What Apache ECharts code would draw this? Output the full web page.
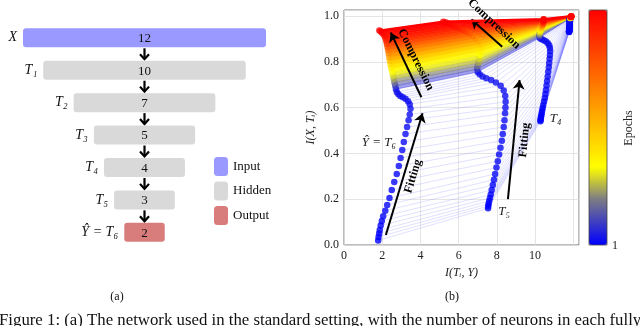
<!DOCTYPE html>
<html>
<head>
<meta charset="UTF-8">
<title>Network and information plane</title>
<script src="https://cdn.jsdelivr.net/npm/echarts@6/dist/echarts.min.js"></script>
<style>
  html, body { margin: 0; padding: 0; background: #fff; }
  #chart { width: 640px; height: 326px; }
</style>
</head>
<body>
<div id="chart"></div>
<script>
// (a) layers of the network
const layerNames = ['X', 'T₁', 'T₂', 'T₃', 'T₄', 'T₅', 'Ŷ = T₆'];
const layerSizes = [12, 10, 7, 5, 4, 3, 2];
const layerKinds = ['Input', 'Hidden', 'Hidden', 'Hidden', 'Hidden', 'Hidden', 'Output'];
const kindColors = { Input: '#9999ff', Hidden: '#d9d9d9', Output: '#d87c7c' };

// (b) information plane, one snapshot per entry
const epochs = [1, 10, 20, 30, 40, 50, 60, 70, 80, 90, 100, 110, 120, 130, 140, 150, 160, 170, 180, 190,
  200, 210, 220, 230, 240, 250, 260, 270, 280, 290,
  1000, 1800, 2400, 2900, 3300, 3700, 4200, 4900, 5600, 6300, 7000, 7700, 8300, 8800, 9200, 9500, 9700, 9850, 9950, 10000];

const t6x = [1.79, 1.81, 1.84, 1.87, 1.92, 1.98, 2.05, 2.16, 2.26, 2.38, 2.50, 2.63, 2.76, 2.87, 2.96, 3.05, 3.13, 3.22, 3.30, 3.38,
  3.44, 3.48, 3.44, 3.35, 3.22, 3.08, 2.95, 2.85, 2.77, 2.72,
  2.68, 2.64, 2.60, 2.56, 2.52, 2.48, 2.44, 2.40, 2.37, 2.34, 2.31, 2.28, 2.25, 2.22, 2.18, 2.13, 2.07, 2.00, 1.93, 1.85];
const t6y = [0.020, 0.035, 0.050, 0.065, 0.085, 0.105, 0.125, 0.150, 0.175, 0.205, 0.240, 0.275, 0.310, 0.345, 0.380, 0.415, 0.450, 0.485, 0.515, 0.545,
  0.570, 0.595, 0.615, 0.628, 0.638, 0.645, 0.651, 0.658, 0.667, 0.680,
  0.695, 0.710, 0.725, 0.740, 0.756, 0.772, 0.788, 0.804, 0.820, 0.836, 0.851, 0.865, 0.878, 0.890, 0.901, 0.911, 0.920, 0.927, 0.932, 0.936];

const t5x = [7.54, 7.55, 7.57, 7.60, 7.64, 7.68, 7.73, 7.79, 7.85, 7.91, 7.98, 8.05, 8.12, 8.19, 8.26, 8.31, 8.36, 8.40, 8.43, 8.45,
  8.46, 8.44, 8.36, 8.20, 7.95, 7.70, 7.45, 7.25, 7.10, 7.00,
  6.97, 6.99, 7.03, 7.07, 7.11, 7.14, 7.14, 7.10, 7.02, 6.90, 6.75, 6.58, 6.40, 6.21, 6.02, 5.84, 5.66, 5.49, 5.34, 5.20];
const t5y = [0.160, 0.170, 0.180, 0.192, 0.205, 0.220, 0.240, 0.262, 0.285, 0.310, 0.338, 0.366, 0.395, 0.425, 0.455, 0.485, 0.515, 0.545, 0.575, 0.600,
  0.625, 0.650, 0.675, 0.695, 0.710, 0.720, 0.728, 0.736, 0.745, 0.755,
  0.768, 0.782, 0.797, 0.813, 0.830, 0.847, 0.863, 0.877, 0.890, 0.902, 0.913, 0.923, 0.932, 0.940, 0.947, 0.954, 0.960, 0.966, 0.971, 0.975];

const t4x = [10.28, 10.29, 10.30, 10.31, 10.33, 10.35, 10.37, 10.40, 10.43, 10.47, 10.51, 10.54, 10.57, 10.60, 10.63, 10.66, 10.69, 10.72, 10.74, 10.76,
  10.78, 10.79, 10.78, 10.74, 10.67, 10.58, 10.48, 10.38, 10.30, 10.25,
  10.23, 10.23, 10.24, 10.25, 10.27, 10.29, 10.31, 10.33, 10.35, 10.37, 10.38, 10.40, 10.41, 10.42, 10.43, 10.44, 10.44, 10.45, 10.45, 10.45];
const t4y = [0.540, 0.546, 0.552, 0.559, 0.567, 0.576, 0.586, 0.598, 0.611, 0.626, 0.642, 0.659, 0.677, 0.696, 0.716, 0.736, 0.756, 0.776, 0.795, 0.813,
  0.830, 0.846, 0.860, 0.872, 0.881, 0.888, 0.893, 0.897, 0.901, 0.905,
  0.911, 0.917, 0.923, 0.929, 0.935, 0.940, 0.945, 0.950, 0.954, 0.958, 0.962, 0.966, 0.969, 0.972, 0.975, 0.978, 0.980, 0.982, 0.984, 0.986];

const t3x = [11.78, 11.78, 11.78, 11.79, 11.79, 11.79, 11.79, 11.80, 11.80, 11.80, 11.80, 11.80, 11.81, 11.81, 11.81, 11.81, 11.81, 11.81, 11.82, 11.82,
  11.82, 11.82, 11.82, 11.82, 11.82, 11.83, 11.83, 11.83, 11.83, 11.83,
  11.83, 11.84, 11.84, 11.84, 11.85, 11.85, 11.85, 11.86, 11.86, 11.86, 11.87, 11.87, 11.87, 11.88, 11.88, 11.88, 11.89, 11.89, 11.90, 11.90];
const t3y = [0.930, 0.931, 0.932, 0.934, 0.936, 0.938, 0.941, 0.944, 0.947, 0.950, 0.953, 0.956, 0.959, 0.962, 0.965, 0.968, 0.971, 0.973, 0.975, 0.977,
  0.979, 0.981, 0.983, 0.984, 0.985, 0.986, 0.987, 0.988, 0.989, 0.990,
  0.990, 0.991, 0.991, 0.992, 0.992, 0.993, 0.993, 0.994, 0.994, 0.995, 0.995, 0.996, 0.996, 0.997, 0.997, 0.997, 0.998, 0.998, 0.998, 0.999];

const xTicks = [0, 2, 4, 6, 8, 10];
const yTicks = [0, 0.2, 0.4, 0.6, 0.8, 1.0];
const epochMin = 1, epochMax = 10000;

// annotation arrows and texts (data coords)
const arrowFrom = [[2.19, 0.044], [8.58, 0.200], [4.05, 0.645], [8.28, 0.866]];
const arrowTo = [[4.11, 0.575], [9.19, 0.720], [2.45, 0.927], [6.67, 0.985]];
const noteText = ['Fitting', 'Fitting', 'Compression', 'Compression'];
const noteAt = [[3.62, 0.300], [9.45, 0.458], [3.76, 0.809], [7.85, 0.965]];
const noteRot = [73.2, 84.4, -63.5, -43.2];
const tagText = ['Ŷ = T₆', 'T₅', 'T₄'];
const tagAt = [[1.83, 0.445], [8.38, 0.148], [11.08, 0.552]];

const SERIF = '"Liberation Serif", "DejaVu Serif", serif';

// blue -> gray -> yellow -> red
const cmapStops = [[0, [0, 0, 255]], [0.2, [128, 128, 128]], [0.33, [255, 255, 0]], [1, [255, 0, 0]]];
function cmap(t) {
  t = Math.max(0, Math.min(1, t));
  for (let i = 1; i < cmapStops.length; i++) {
    const [p1, c1] = cmapStops[i];
    const [p0, c0] = cmapStops[i - 1];
    if (t <= p1) {
      const f = (t - p0) / (p1 - p0);
      return c0.map((v, j) => Math.round(v + (c1[j] - v) * f));
    }
  }
  return cmapStops[cmapStops.length - 1][1];
}
function epochT(e) { return (e - epochMin) / (epochMax - epochMin); }
function rgba(t, a) { const c = cmap(t); return 'rgba(' + c[0] + ',' + c[1] + ',' + c[2] + ',' + a + ')'; }

const cbColors = [];
for (let i = 0; i <= 30; i++) cbColors.push(rgba(i / 30, 1));

function epochLine(e) {
  return [[t6x[e], t6y[e]], [t5x[e], t5y[e]], [t4x[e], t4y[e]], [t3x[e], t3y[e]]];
}
const allIdx = epochs.map((_, i) => i);
const fitIdx = allIdx.filter(i => epochs[i] < 1000);
const bandIdx = allIdx.filter(i => i >= fitIdx.length - 1 && i < epochs.length - 1);
const last = epochs.length - 1;

// ---- panel (a) ----
function renderLayer(params, api) {
  const n = api.value(0), k = api.value(1);
  const a = api.coord([-n / 2, k]);
  const b = api.coord([n / 2, k]);
  const h = 19;
  const cx = (a[0] + b[0]) / 2;
  const kids = [
    { type: 'rect', shape: { x: a[0], y: a[1] - h / 2, width: b[0] - a[0], height: h, r: 3 },
      style: { fill: api.visual('color') } },
    { type: 'text', style: { text: String(n), x: cx, y: a[1] + 1, align: 'center', verticalAlign: 'middle',
      font: '13px ' + SERIF, fill: '#111' } },
    { type: 'text', style: { text: layerNames[k], x: a[0] - 6, y: a[1], align: 'right', verticalAlign: 'middle',
      font: 'italic 14px ' + SERIF, fill: '#111' } }
  ];
  if (k < layerSizes.length - 1) {
    const c = api.coord([0, k + 1]);
    const y1 = a[1] + h / 2 + 1, y2 = c[1] - h / 2 - 1;
    kids.push({ type: 'line', shape: { x1: cx, y1: y1, x2: cx, y2: y2 - 1 }, style: { stroke: '#000', lineWidth: 2.2 } });
    kids.push({ type: 'polyline', shape: { points: [[cx - 4.5, y2 - 5.5], [cx, y2 - 0.5], [cx + 4.5, y2 - 5.5]] },
      style: { stroke: '#000', lineWidth: 2.2, fill: null } });
  }
  return { type: 'group', children: kids };
}
function layerSeries(kind) {
  return {
    type: 'custom', name: kind, xAxisIndex: 0, yAxisIndex: 0,
    itemStyle: { color: kindColors[kind] },
    renderItem: renderLayer,
    data: layerSizes.map((n, k) => [n, k]).filter((d, k) => layerKinds[k] === kind)
  };
}

// ---- panel (b) ----
function renderHatch(params, api) {
  const e = api.value(2);
  const pts = epochLine(e).map(p => api.coord(p));
  return { type: 'polyline', shape: { points: pts }, style: { stroke: 'rgba(50,50,255,0.26)', lineWidth: 0.6, fill: null } };
}
function renderBand(params, api) {
  const e = api.value(2);
  const lo = epochLine(e).map(p => api.coord(p));
  const hi = epochLine(e + 1).map(p => api.coord(p)).reverse();
  const t = (epochT(epochs[e]) + epochT(epochs[e + 1])) / 2;
  const a = Math.min(1, 0.35 + 1.6 * t);
  const col = rgba(t, a);
  return { type: 'polygon', shape: { points: lo.concat(hi) }, style: { fill: col, stroke: col, lineWidth: 0.6 } };
}
function layerDots(xs, ys) {
  return {
    type: 'scatter', xAxisIndex: 1, yAxisIndex: 1, symbolSize: 6.5, z: 4,
    data: xs.map((x, i) => [x, ys[i], epochs[i]])
  };
}

const chart = echarts.init(document.getElementById('chart'), null, { renderer: 'canvas' });

const option = {
  animation: false,
  backgroundColor: '#fff',
  legend: {
    data: ['Input', 'Hidden', 'Output'],
    orient: 'vertical', left: 214, top: 157, padding: 0,
    itemWidth: 14, itemHeight: 19, itemGap: 5.5, icon: 'roundRect',
    textStyle: { fontFamily: SERIF, fontSize: 13, color: '#111' },
    selectedMode: false
  },
  grid: [
    { left: 23, top: 21.6, width: 243, height: 226.9 },
    { left: 344, top: 10, width: 235, height: 235, show: true, borderColor: '#555', borderWidth: 0.8, backgroundColor: 'transparent' }
  ],
  xAxis: [
    { gridIndex: 0, type: 'value', min: -6, max: 6, show: false },
    {
      gridIndex: 1, type: 'value', min: 0, max: 12.3, interval: 2,
      axisLine: { show: false }, axisTick: { show: false },
      splitLine: { lineStyle: { color: '#dedede', width: 0.8 } },
      axisLabel: { margin: 5, fontFamily: SERIF, fontSize: 12, color: '#222',
        formatter: v => xTicks.indexOf(v) >= 0 ? String(v) : '' },
      name: 'I(Tᵢ, Y)', nameLocation: 'middle', nameGap: 20,
      nameTextStyle: { fontFamily: SERIF, fontSize: 12, fontStyle: 'italic', color: '#222' }
    }
  ],
  yAxis: [
    { gridIndex: 0, type: 'value', min: -0.5, max: 6.5, inverse: true, show: false },
    {
      gridIndex: 1, type: 'value', min: 0, max: 1.026, interval: 0.2,
      axisLine: { show: false }, axisTick: { show: false },
      splitLine: { lineStyle: { color: '#dedede', width: 0.8 } },
      axisLabel: { margin: 5, fontFamily: SERIF, fontSize: 12, color: '#222',
        formatter: v => yTicks.some(t => Math.abs(t - v) < 1e-6) ? v.toFixed(1) : '' },
      name: 'I(X, Tᵢ)', nameLocation: 'middle', nameGap: 27, nameRotate: 90,
      nameTextStyle: { fontFamily: SERIF, fontSize: 12, fontStyle: 'italic', color: '#222' }
    }
  ],
  visualMap: {
    type: 'continuous', min: epochMin, max: epochMax, dimension: 2,
    seriesIndex: [7, 8, 9, 10],
    orient: 'vertical', left: 589, top: 10, itemWidth: 18, itemHeight: 235,
    padding: 0, calculable: false, hoverLink: false,
    inRange: { color: cbColors }
  },
  series: [
    layerSeries('Input'),
    layerSeries('Hidden'),
    layerSeries('Output'),
    {
      type: 'custom', xAxisIndex: 1, yAxisIndex: 1, z: 1, silent: true,
      renderItem: renderHatch,
      data: fitIdx.map(e => [t6x[e], t6y[e], e])
    },
    {
      type: 'custom', xAxisIndex: 1, yAxisIndex: 1, z: 2, silent: true,
      renderItem: renderBand,
      data: bandIdx.map(e => [t6x[e], t6y[e], e])
    },
    {
      type: 'line', xAxisIndex: 1, yAxisIndex: 1, z: 10, silent: true,
      symbol: 'none', lineStyle: { color: '#ff0000', width: 2.5 },
      data: epochLine(last),
      markLine: {
        silent: true, symbol: ['none', 'arrow'], symbolSize: 9, animation: false,
        label: { show: false },
        lineStyle: { color: '#000', width: 2, type: 'solid' },
        emphasis: { disabled: true },
        data: arrowFrom.map((p, i) => [{ coord: p }, { coord: arrowTo[i] }])
      }
    },
    { type: 'line', xAxisIndex: 1, yAxisIndex: 1, data: [], silent: true },
    layerDots(t6x, t6y),
    layerDots(t5x, t5y),
    layerDots(t4x, t4y),
    layerDots(t3x, t3y)
  ]
};
chart.setOption(option);

// texts placed through the axis scales
const graphics = [];
const toPx = p => chart.convertToPixel({ xAxisIndex: 1, yAxisIndex: 1 }, p);
noteText.forEach((txt, i) => {
  const p = toPx(noteAt[i]);
  graphics.push({ type: 'text', x: p[0], y: p[1], rotation: noteRot[i] * Math.PI / 180, z: 20,
    style: { text: txt, align: 'center', verticalAlign: 'middle', font: 'bold 12px ' + SERIF, fill: '#000' } });
});
tagText.forEach((txt, i) => {
  const p = toPx(tagAt[i]);
  graphics.push({ type: 'text', x: p[0], y: p[1], z: 20,
    style: { text: txt, align: 'center', verticalAlign: 'middle', font: 'italic 13px ' + SERIF, fill: '#222' } });
});
graphics.push(
  { type: 'rect', shape: { x: 589, y: 10, width: 18, height: 235 }, style: { fill: null, stroke: '#444', lineWidth: 0.8 }, z: 20 },
  { type: 'text', x: 612, y: 246, style: { text: '1', align: 'left', verticalAlign: 'middle', font: '12px ' + SERIF, fill: '#222' } },
  { type: 'text', x: 629, y: 128, rotation: Math.PI / 2,
    style: { text: 'Epochs', align: 'center', verticalAlign: 'middle', font: '12px ' + SERIF, fill: '#222' } },
  { type: 'text', x: 117, y: 297, style: { text: '(a)', align: 'center', verticalAlign: 'middle', font: '12px ' + SERIF, fill: '#111' } },
  { type: 'text', x: 452, y: 297, style: { text: '(b)', align: 'center', verticalAlign: 'middle', font: '12px ' + SERIF, fill: '#111' } },
  { type: 'text', x: -1, y: 312, style: { text: 'Figure 1: (a) The network used in the standard setting, with the number of neurons in each fully',
    align: 'left', verticalAlign: 'top', font: '16.8px ' + SERIF, fill: '#111' } }
);
chart.setOption({ graphic: graphics });
</script>
</body>
</html>
